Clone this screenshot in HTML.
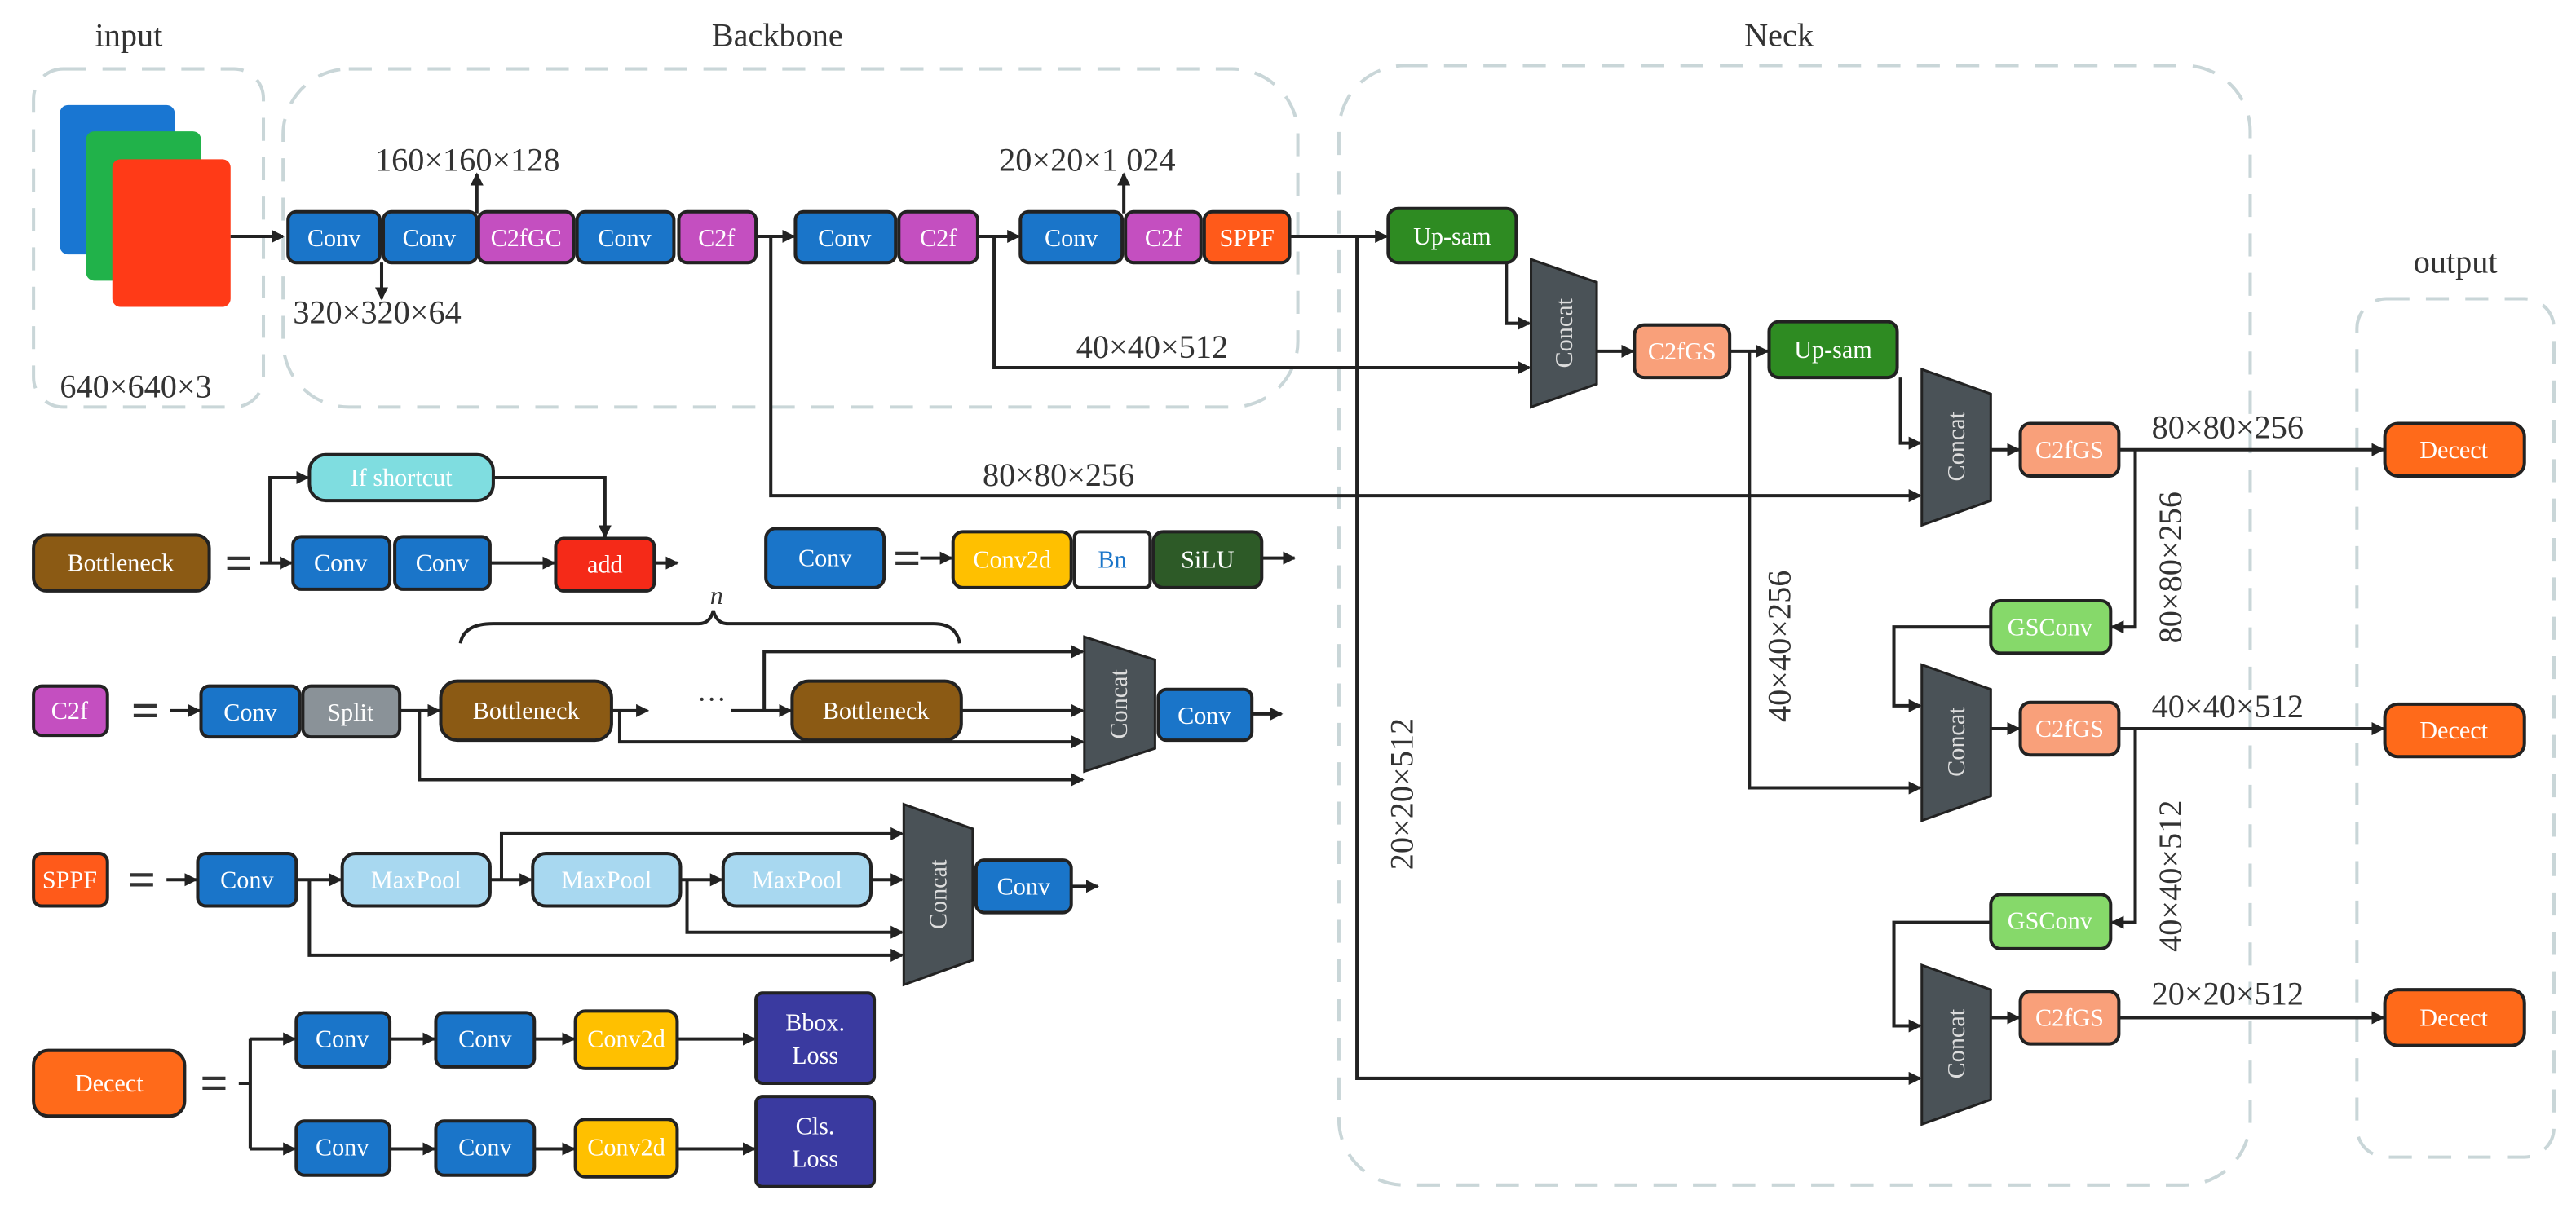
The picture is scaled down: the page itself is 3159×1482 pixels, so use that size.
<!DOCTYPE html>
<html><head><meta charset="utf-8"><style>
html,body{margin:0;padding:0;background:#fff;}
svg{display:block;}
text{font-family:"Liberation Serif",serif;}
</style></head><body>
<svg width="3159" height="1482" viewBox="0 0 1568 736" xmlns="http://www.w3.org/2000/svg">
<defs>
<marker id="a" markerWidth="8" markerHeight="8" refX="7" refY="4" orient="auto" markerUnits="userSpaceOnUse"><path d="M0,0 L8,4 L0,8 Z" fill="#222"/></marker>
</defs>
<rect width="1568" height="736" fill="#fff"/>
<!-- dashed groups -->
<g fill="none" stroke="#c9d6d8" stroke-width="2" stroke-dasharray="14,10">
<rect x="20" y="42" width="140" height="206" rx="18"/>
<rect x="172" y="42" width="618" height="206" rx="40"/>
<rect x="815" y="40" width="555" height="682" rx="40"/>
<rect x="1435" y="182" width="120" height="523" rx="18"/>
</g>
<g font-size="20" fill="#333" text-anchor="middle">
<text x="78" y="28">input</text>
<text x="473" y="28">Backbone</text>
<text x="1083" y="28">Neck</text>
<text x="1495" y="166">output</text>
</g>
<!-- input images -->
<rect x="36" y="64" width="70" height="91" rx="5" fill="#1976d2"/>
<rect x="52" y="80" width="70" height="91" rx="5" fill="#21b24a"/>
<rect x="68" y="97" width="72" height="90" rx="5" fill="#ff3a17"/>
<g font-size="20" fill="#333">
<text x="36" y="242">640×640×3</text>
<text x="228" y="104">160×160×128</text>
<text x="178" y="197">320×320×64</text>
<text x="608" y="104">20×20×1 024</text>
<text x="655" y="218">40×40×512</text>
<text x="598" y="296">80×80×256</text>
<text x="1310" y="267">80×80×256</text>
<text x="1310" y="437">40×40×512</text>
<text x="1310" y="612">20×20×512</text>
<text x="860" y="530" transform="rotate(-90 860 530)">20×20×512</text>
<text x="1090" y="440" transform="rotate(-90 1090 440)">40×40×256</text>
<text x="1328" y="392" transform="rotate(-90 1328 392)">80×80×256</text>
<text x="1328" y="580" transform="rotate(-90 1328 580)">40×40×512</text>
<text x="432" y="368" font-style="italic" font-size="16">n</text>
</g>
<!-- connectors -->
<g fill="none" stroke="#222" stroke-width="2">
<path d="M140,144 H172" marker-end="url(#a)"/>
<path d="M290,130 V106" marker-end="url(#a)"/>
<path d="M232,160 V182" marker-end="url(#a)"/>
<path d="M684,130 V106" marker-end="url(#a)"/>
<path d="M460,144 H483" marker-end="url(#a)"/>
<path d="M595,144 H620" marker-end="url(#a)"/>
<path d="M469,144 V302 H1169" marker-end="url(#a)"/>
<path d="M605,144 V224 H931" marker-end="url(#a)"/>
<path d="M785,144 H844" marker-end="url(#a)"/>
<path d="M826,144 V657 H1169" marker-end="url(#a)"/>
<path d="M917,160 V197 H931" marker-end="url(#a)"/>
<path d="M972,214 H994" marker-end="url(#a)"/>
<path d="M1053,214 H1076" marker-end="url(#a)"/>
<path d="M1065,214 V480 H1169" marker-end="url(#a)"/>
<path d="M1157,230 V270 H1169" marker-end="url(#a)"/>
<path d="M1212,274 H1229" marker-end="url(#a)"/>
<path d="M1290,274 H1451" marker-end="url(#a)"/>
<path d="M1300,274 V382 H1286" marker-end="url(#a)"/>
<path d="M1212,382 H1153 V430 H1169" marker-end="url(#a)"/>
<path d="M1212,444 H1229" marker-end="url(#a)"/>
<path d="M1290,444 H1451" marker-end="url(#a)"/>
<path d="M1300,444 V562 H1286" marker-end="url(#a)"/>
<path d="M1212,562 H1153 V625 H1169" marker-end="url(#a)"/>
<path d="M1212,620 H1229" marker-end="url(#a)"/>
<path d="M1290,620 H1451" marker-end="url(#a)"/>
<!-- bottleneck legend -->
<path d="M158,343 H177" marker-end="url(#a)"/>
<path d="M164,343 V291 H187" marker-end="url(#a)"/>
<path d="M300,291 H368 V327" marker-end="url(#a)"/>
<path d="M298,343 H337" marker-end="url(#a)"/>
<path d="M398,343 H412" marker-end="url(#a)"/>
<path d="M560,340 H579" marker-end="url(#a)"/>
<path d="M768,340 H788" marker-end="url(#a)"/>
<!-- brace -->
<path d="M280,392 Q282,380 300,380 H425 Q432,380 434,372 Q436,380 443,380 H568 Q582,380 584,392"/>
<!-- c2f -->
<path d="M103,433 H121" marker-end="url(#a)"/>
<path d="M243,433 H267" marker-end="url(#a)"/>
<path d="M372,433 H394" marker-end="url(#a)"/>
<path d="M445,433 H481" marker-end="url(#a)"/>
<path d="M465,433 V397 H659" marker-end="url(#a)"/>
<path d="M585,433 H659" marker-end="url(#a)"/>
<path d="M377,433 V452 H659" marker-end="url(#a)"/>
<path d="M255,433 V475 H659" marker-end="url(#a)"/>
<path d="M762,435 H780" marker-end="url(#a)"/>
<!-- sppf -->
<path d="M101,536 H119" marker-end="url(#a)"/>
<path d="M180,536 H207" marker-end="url(#a)"/>
<path d="M298,536 H323" marker-end="url(#a)"/>
<path d="M414,536 H439" marker-end="url(#a)"/>
<path d="M530,536 H549" marker-end="url(#a)"/>
<path d="M305,536 V508 H549" marker-end="url(#a)"/>
<path d="M418,536 V568 H549" marker-end="url(#a)"/>
<path d="M188,536 V582 H549" marker-end="url(#a)"/>
<path d="M652,540 H668" marker-end="url(#a)"/>
<!-- decect legend -->
<path d="M145,660 H152 M152,633 V700"/>
<path d="M152,633 H179" marker-end="url(#a)"/>
<path d="M152,700 H179" marker-end="url(#a)"/>
<path d="M237,633 H264" marker-end="url(#a)"/>
<path d="M237,700 H264" marker-end="url(#a)"/>
<path d="M325,633 H349" marker-end="url(#a)"/>
<path d="M325,700 H349" marker-end="url(#a)"/>
<path d="M412,633 H459" marker-end="url(#a)"/>
<path d="M412,700 H459" marker-end="url(#a)"/>
</g>
<text x="424" y="432" font-size="18" fill="#333">···</text>
<!-- equals signs -->
<g font-size="30" font-weight="bold" fill="#333" text-anchor="middle">
<text x="145" y="353">=</text>
<text x="552" y="350">=</text>
<text x="88" y="443">=</text>
<text x="86" y="546">=</text>
<text x="130" y="670">=</text>
</g>
<!-- concat trapezoids -->
<g fill="#4a5257" stroke="#222" stroke-width="1.5">
<path d="M932,158 L972,172 L972,234 L932,248 Z"/>
<path d="M1170,225 L1212,240 L1212,305 L1170,320 Z"/>
<path d="M1170,405 L1212,420 L1212,485 L1170,500 Z"/>
<path d="M1170,588 L1212,603 L1212,670 L1170,685 Z"/>
<path d="M660,388 L703,402 L703,456 L660,470 Z"/>
<path d="M550,490 L592,505 L592,585 L550,600 Z"/>
</g>
<g font-size="15" fill="#ddd" text-anchor="middle">
<text transform="translate(957,203) rotate(-90)">Concat</text>
<text transform="translate(1196,272) rotate(-90)">Concat</text>
<text transform="translate(1196,452) rotate(-90)">Concat</text>
<text transform="translate(1196,636) rotate(-90)">Concat</text>
<text transform="translate(686,429) rotate(-90)">Concat</text>
<text transform="translate(576,545) rotate(-90)">Concat</text>
</g>
<!-- boxes -->
<g stroke="#222" stroke-width="2">
<rect x="175" y="129" width="56" height="31" rx="5" fill="#1a75c9"/>
<rect x="233" y="129" width="57" height="31" rx="5" fill="#1a75c9"/>
<rect x="291" y="129" width="58" height="31" rx="5" fill="#c44fc0"/>
<rect x="351" y="129" width="59" height="31" rx="5" fill="#1a75c9"/>
<rect x="413" y="129" width="47" height="31" rx="5" fill="#c44fc0"/>
<rect x="484" y="129" width="61" height="31" rx="5" fill="#1a75c9"/>
<rect x="547" y="129" width="48" height="31" rx="5" fill="#c44fc0"/>
<rect x="621" y="129" width="62" height="31" rx="5" fill="#1a75c9"/>
<rect x="685" y="129" width="46" height="31" rx="5" fill="#c44fc0"/>
<rect x="733" y="129" width="52" height="31" rx="5" fill="#ff5a1a"/>
<rect x="845" y="127" width="78" height="33" rx="6" fill="#2e8b22"/>
<rect x="995" y="198" width="58" height="32" rx="6" fill="#f9a07a"/>
<rect x="1077" y="196" width="78" height="34" rx="6" fill="#2e8b22"/>
<rect x="1230" y="258" width="60" height="32" rx="6" fill="#f9a07a"/>
<rect x="1230" y="428" width="60" height="32" rx="6" fill="#f9a07a"/>
<rect x="1230" y="604" width="60" height="32" rx="6" fill="#f9a07a"/>
<rect x="1212" y="366" width="73" height="32" rx="6" fill="#86d96a"/>
<rect x="1212" y="545" width="73" height="33" rx="6" fill="#86d96a"/>
<rect x="1452" y="258" width="85" height="32" rx="8" fill="#ff6a1a"/>
<rect x="1452" y="429" width="85" height="32" rx="8" fill="#ff6a1a"/>
<rect x="1452" y="603" width="85" height="34" rx="8" fill="#ff6a1a"/>
<!-- legend -->
<rect x="20" y="326" width="107" height="34" rx="8" fill="#8b5a14"/>
<rect x="188" y="277" width="112" height="28" rx="10" fill="#7fdde0"/>
<rect x="178" y="327" width="59" height="32" rx="5" fill="#1a75c9"/>
<rect x="240" y="327" width="58" height="32" rx="5" fill="#1a75c9"/>
<rect x="338" y="328" width="60" height="32" rx="5" fill="#f52a18"/>
<rect x="466" y="322" width="72" height="36" rx="6" fill="#1a75c9"/>
<rect x="580" y="324" width="72" height="34" rx="6" fill="#ffc000"/>
<rect x="654" y="324" width="46" height="34" rx="3" fill="#fff"/>
<rect x="702" y="324" width="66" height="34" rx="6" fill="#2d5a27"/>
<rect x="20" y="418" width="45" height="30" rx="5" fill="#c44fc0"/>
<rect x="122" y="418" width="60" height="31" rx="5" fill="#1a75c9"/>
<rect x="184" y="418" width="59" height="31" rx="5" fill="#8a9298"/>
<rect x="268" y="415" width="104" height="36" rx="10" fill="#8b5a14"/>
<rect x="482" y="415" width="103" height="36" rx="10" fill="#8b5a14"/>
<rect x="705" y="420" width="57" height="31" rx="5" fill="#1a75c9"/>
<rect x="20" y="520" width="45" height="32" rx="5" fill="#ff5a1a"/>
<rect x="120" y="520" width="60" height="32" rx="5" fill="#1a75c9"/>
<rect x="208" y="520" width="90" height="32" rx="8" fill="#a8d8f0"/>
<rect x="324" y="520" width="90" height="32" rx="8" fill="#a8d8f0"/>
<rect x="440" y="520" width="90" height="32" rx="8" fill="#a8d8f0"/>
<rect x="594" y="524" width="58" height="32" rx="5" fill="#1a75c9"/>
<rect x="20" y="640" width="92" height="40" rx="9" fill="#ff6a1a"/>
<rect x="180" y="617" width="57" height="33" rx="5" fill="#1a75c9"/>
<rect x="265" y="617" width="60" height="33" rx="5" fill="#1a75c9"/>
<rect x="350" y="616" width="62" height="35" rx="6" fill="#ffc000"/>
<rect x="460" y="605" width="72" height="55" rx="4" fill="#3a3aa0"/>
<rect x="180" y="683" width="57" height="33" rx="5" fill="#1a75c9"/>
<rect x="265" y="683" width="60" height="33" rx="5" fill="#1a75c9"/>
<rect x="350" y="682" width="62" height="35" rx="6" fill="#ffc000"/>
<rect x="460" y="668" width="72" height="55" rx="4" fill="#3a3aa0"/>
</g>
<g font-size="15" fill="#fff" text-anchor="middle">
<text x="203" y="150">Conv</text>
<text x="261" y="150">Conv</text>
<text x="320" y="150">C2fGC</text>
<text x="380" y="150">Conv</text>
<text x="436" y="150">C2f</text>
<text x="514" y="150">Conv</text>
<text x="571" y="150">C2f</text>
<text x="652" y="150">Conv</text>
<text x="708" y="150">C2f</text>
<text x="759" y="150">SPPF</text>
<text x="884" y="149">Up-sam</text>
<text x="1024" y="219">C2fGS</text>
<text x="1116" y="218">Up-sam</text>
<text x="1260" y="279">C2fGS</text>
<text x="1260" y="449">C2fGS</text>
<text x="1260" y="625">C2fGS</text>
<text x="1248" y="387">GSConv</text>
<text x="1248" y="566">GSConv</text>
<text x="1494" y="279">Decect</text>
<text x="1494" y="450">Decect</text>
<text x="1494" y="625">Decect</text>
<text x="73" y="348">Bottleneck</text>
<text x="244" y="296">If shortcut</text>
<text x="207" y="348">Conv</text>
<text x="269" y="348">Conv</text>
<text x="368" y="349">add</text>
<text x="502" y="345">Conv</text>
<text x="616" y="346">Conv2d</text>
<text x="677" y="346" fill="#1a75c9">Bn</text>
<text x="735" y="346">SiLU</text>
<text x="42" y="438">C2f</text>
<text x="152" y="439">Conv</text>
<text x="213" y="439">Split</text>
<text x="320" y="438">Bottleneck</text>
<text x="533" y="438">Bottleneck</text>
<text x="733" y="441">Conv</text>
<text x="42" y="541">SPPF</text>
<text x="150" y="541">Conv</text>
<text x="253" y="541">MaxPool</text>
<text x="369" y="541">MaxPool</text>
<text x="485" y="541">MaxPool</text>
<text x="623" y="545">Conv</text>
<text x="66" y="665">Decect</text>
<text x="208" y="638">Conv</text>
<text x="295" y="638">Conv</text>
<text x="381" y="638">Conv2d</text>
<text x="496" y="628">Bbox.</text>
<text x="496" y="648">Loss</text>
<text x="208" y="704">Conv</text>
<text x="295" y="704">Conv</text>
<text x="381" y="704">Conv2d</text>
<text x="496" y="691">Cls.</text>
<text x="496" y="711">Loss</text>
</g>
</svg>
</body></html>
